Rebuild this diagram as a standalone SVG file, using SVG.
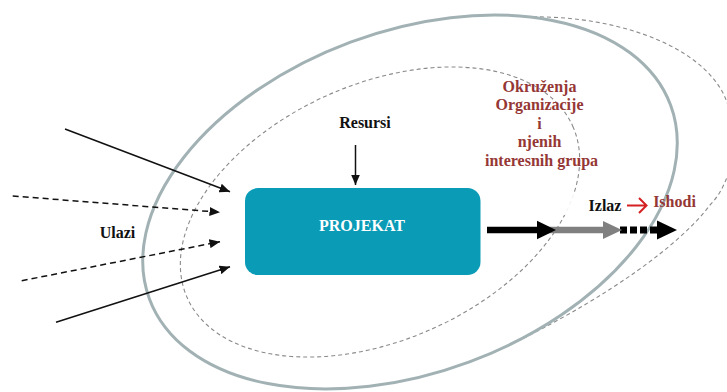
<svg xmlns="http://www.w3.org/2000/svg" width="727" height="392" viewBox="0 0 727 392">
  <style>
    .lbl { font-family: "Liberation Serif", "DejaVu Serif", serif; font-weight: bold; font-size: 16px; }
    .dark { fill: #111; }
    .red { fill: #953735; }
    .dash { fill: none; stroke: #8a8a8a; stroke-width: 1.1; stroke-dasharray: 4 3; }
    .ring { fill: none; stroke: #a2b2b4; stroke-width: 3; }
    .in { fill: none; stroke: #111; stroke-width: 1.5; marker-end: url(#tip); }
    .in.dashed { stroke-dasharray: 6 4; }
  </style>
  <defs>
    <marker id="tip" markerUnits="userSpaceOnUse" markerWidth="11" markerHeight="9" refX="10.5" refY="4.5" orient="auto">
      <path d="M0,0 L10.5,4.5 L0,9 z" fill="#111"/>
    </marker>
  </defs>

  <rect width="727" height="392" fill="#fff"/>

  <!-- wider stakeholder environment (dashed, right side) -->
  <g id="env-stakeholders">
    <path class="dash" d="M505,18 C610,10 700,45 724,95 C740,130 735,180 710,205 C680,245 610,295 520,340"/>
  </g>

  <!-- organisation environment: solid ring with white interior -->
  <g id="env-organisation">
    <ellipse cx="410" cy="202" rx="278" ry="170.6" transform="rotate(-20.4 410 202)" fill="#fff"/>
  </g>

  <!-- project environment (inner dashed ring) -->
  <g id="env-project">
    <ellipse class="dash" cx="380" cy="212" rx="211" ry="128" transform="rotate(-24 380 212)"/>
  </g>

  <!-- soft background behind the output labels -->
  <rect x="545" y="193" width="152" height="22" fill="#fff" opacity="0.9"/>

  <g id="env-organisation-ring">
    <ellipse class="ring" cx="410" cy="202" rx="278" ry="170.6" transform="rotate(-20.4 410 202)"/>
  </g>

  <g id="connectors">
    <!-- inputs -->
    <line class="in" x1="65" y1="129" x2="230" y2="191.7"/>
    <line class="in dashed" x1="12.7" y1="196" x2="220" y2="212.3"/>
    <line class="in dashed" x1="21.7" y1="280.7" x2="220" y2="241.7"/>
    <line class="in" x1="56" y1="322.3" x2="230" y2="266.7"/>
    <!-- resources -->
    <line class="in" x1="355.5" y1="145" x2="355.5" y2="185"/>
    <!-- outputs: outcomes (dotted), output (grey), project result (black) -->
    <line x1="620" y1="230" x2="657" y2="230" stroke="#000" stroke-width="7" stroke-dasharray="7 3"/>
    <polygon points="657,220.5 677,230 657,239.5" fill="#000"/>
    <line x1="545" y1="230" x2="606" y2="230" stroke="#808080" stroke-width="6.5"/>
    <polygon points="603,221 622,230 603,239" fill="#808080"/>
    <line x1="487" y1="230" x2="540" y2="230" stroke="#000" stroke-width="6.5"/>
    <polygon points="537,220.7 556,230 537,239.3" fill="#000"/>
    <!-- red arrow between output and outcomes -->
    <path d="M627,205.5 H646 M639,198 L646.5,205.5 L639,213" fill="none" stroke="#d42020" stroke-width="2"/>
  </g>

  <g id="projekat">
    <rect x="245" y="188" width="235.5" height="87" rx="13" fill="#0a9bb7"/>
    <text class="lbl" x="362" y="231" text-anchor="middle" fill="#fff" font-size="17">PROJEKAT</text>
  </g>

  <g id="resursi">
    <text class="lbl dark" x="365" y="128" text-anchor="middle">Resursi</text>
  </g>

  <g id="ulazi">
    <text class="lbl dark" x="117.5" y="237.5" text-anchor="middle">Ulazi</text>
  </g>

  <g id="izlaz">
    <text class="lbl dark" x="605" y="210.5" text-anchor="middle">Izlaz</text>
  </g>

  <g id="ishodi">
    <text class="lbl red" x="674.5" y="206.5" text-anchor="middle">Ishodi</text>
  </g>

  <g id="okruzenja">
    <text class="lbl red" text-anchor="middle" font-size="16.5">
      <tspan x="541.5" y="91.5">Okruženja</tspan>
      <tspan x="541.5" y="110">Organizacije</tspan>
      <tspan x="541.5" y="128.5">i</tspan>
      <tspan x="541.5" y="147">njenih</tspan>
      <tspan x="541.5" y="166">interesnih grupa</tspan>
    </text>
  </g>
</svg>
